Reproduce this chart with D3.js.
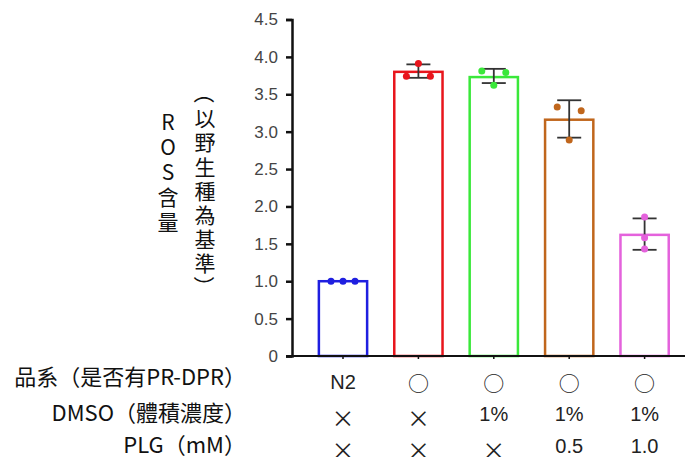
<!DOCTYPE html>
<html>
<head>
<meta charset="utf-8">
<script src="https://cdn.jsdelivr.net/npm/d3@7"></script>
<style>
  body { margin: 0; background: #fff; }
  svg { display: block; }
  text { font-family: "Noto Sans CJK TC", "Noto Sans", sans-serif; }
</style>
</head>
<body>
<div id="chart"></div>
<script>
// data
const groups = ["N2", "wt", "dmso", "plg05", "plg10"];
const means = [1.0, 3.80, 3.73, 3.16, 1.62];
const errLow = [1.0, 3.72, 3.65, 2.92, 1.42];
const errHigh = [1.0, 3.90, 3.84, 3.42, 1.84];
const points = [
    [1.0, 1.0, 1.0],
    [3.74, 3.91, 3.74],
    [3.81, 3.62, 3.79],
    [3.33, 2.89, 3.28],
    [1.86, 1.58, 1.43]
];
// slot of each dot within its bar (-1 left, 0 middle, 1 right)
const pointSlots = [
    [-1, 0, 1],
    [-1, 0, 1],
    [-1, 0, 1],
    [-1, 0, 1],
    [0, 0, 0]
];
const colors = ["#1f1fe0", "#e8151c", "#3ae83a", "#c0661c", "#e462dc"];
const yTicks = [0, 0.5, 1.0, 1.5, 2.0, 2.5, 3.0, 3.5, 4.0, 4.5];
const rowLabels = ["品系（是否有PR-DPR）", "DMSO（體積濃度）", "PLG（mM）"];
const rowValues = [
    ["N2", "○", "○", "○", "○"],
    ["×", "×", "1%", "1%", "1%"],
    ["×", "×", "×", "0.5", "1.0"]
];
const titleLeft = ["R", "O", "S", "含", "量"];
const titleRight = ["（", "以", "野", "生", "種", "為", "基", "準", "）"];

const width = 685;
const height = 457;

const svg = d3.select("#chart")
    .append("svg")
    .attr("width", width)
    .attr("height", height);

const x = d3.scaleBand()
    .domain(groups)
    .range([305.3, 682.3])
    .paddingInner(0.36)
    .paddingOuter(0.18);

const y = d3.scaleLinear()
    .domain([0, 4.5])
    .range([356, 19.5]);

const axisX = 292;

// bars
svg.selectAll(".bar")
    .data(groups)
    .enter()
    .append("rect")
    .attr("class", "bar")
    .attr("x", d => x(d))
    .attr("y", (d, i) => y(means[i]))
    .attr("width", x.bandwidth())
    .attr("height", (d, i) => y(0) - y(means[i]))
    .attr("fill", "none")
    .attr("stroke", (d, i) => colors[i])
    .attr("stroke-width", 2.5);

// y axis
const yAxis = svg.append("g")
    .attr("transform", `translate(${axisX},0)`)
    .call(d3.axisLeft(y).tickValues(yTicks).tickSize(6).tickPadding(8)
        .tickFormat(d => d === 0 ? "0" : d3.format(".1f")(d)));
yAxis.select(".domain").attr("stroke", "#111").attr("stroke-width", 2.5);
yAxis.selectAll(".tick line").attr("stroke", "#111").attr("stroke-width", 2.5);
yAxis.selectAll(".tick text")
    .attr("fill", "#444")
    .style("font-size", "17px")
    .style("font-family", "'Liberation Sans', Arial, sans-serif");

// x axis line
const xAxis = svg.append("g")
    .attr("transform", `translate(0,${y(0)})`)
    .call(d3.axisBottom(x).tickSize(3).tickFormat(""));
xAxis.select(".domain")
    .attr("d", `M${axisX - 6},0H${width}`)
    .attr("stroke", "#111")
    .attr("stroke-width", 1.8);
xAxis.selectAll(".tick line").attr("stroke", "#111").attr("stroke-width", 1.5);

// error bars
const cap = 12;
const eb = svg.selectAll(".err")
    .data(groups.filter((d, i) => errHigh[i] > errLow[i]))
    .enter()
    .append("g")
    .attr("class", "err")
    .attr("stroke", "#333")
    .attr("stroke-width", 1.8);
eb.each(function(d) {
    const i = groups.indexOf(d);
    const cx = x(d) + x.bandwidth() / 2;
    const g = d3.select(this);
    g.append("line").attr("x1", cx).attr("x2", cx).attr("y1", y(errLow[i])).attr("y2", y(errHigh[i]));
    g.append("line").attr("x1", cx - cap).attr("x2", cx + cap).attr("y1", y(errLow[i])).attr("y2", y(errLow[i]));
    g.append("line").attr("x1", cx - cap).attr("x2", cx + cap).attr("y1", y(errHigh[i])).attr("y2", y(errHigh[i]));
});

// dots
const dotData = [];
points.forEach((arr, i) => arr.forEach((v, j) => dotData.push({ g: groups[i], i: i, v: v, s: pointSlots[i][j] })));
svg.selectAll(".dot")
    .data(dotData)
    .enter()
    .append("circle")
    .attr("class", "dot")
    .attr("cx", d => x(d.g) + x.bandwidth() / 2 + d.s * 12)
    .attr("cy", d => y(d.v))
    .attr("r", 3.5)
    .attr("fill", d => colors[d.i]);

// y title, stacked characters
svg.selectAll(".tl")
    .data(titleLeft)
    .enter()
    .append("text")
    .attr("class", "tl")
    .attr("x", 168)
    .attr("y", (d, i) => 121 + i * 25)
    .attr("text-anchor", "middle")
    .attr("dominant-baseline", "central")
    .attr("fill", "#111")
    .style("font-size", "21px")
    .text(d => d);

svg.selectAll(".tr")
    .data(titleRight)
    .enter()
    .append("text")
    .attr("class", "tr")
    .attr("text-anchor", "middle")
    .attr("dominant-baseline", "central")
    .attr("transform", (d, i) => {
        const ty = 93 + i * 24.2;
        return (d === "（" || d === "）") ? `translate(205,${ty}) rotate(90)` : `translate(205,${ty})`;
    })
    .attr("fill", "#111")
    .style("font-size", "21px")
    .text(d => d);

// condition table
const rowY = [375, 411, 443];
const valY = [382, 414, 446];
svg.selectAll(".rowlab")
    .data(rowLabels)
    .enter()
    .append("text")
    .attr("class", "rowlab")
    .attr("x", 246)
    .attr("y", (d, i) => rowY[i])
    .attr("text-anchor", "end")
    .attr("dominant-baseline", "central")
    .attr("fill", "#111")
    .style("font-size", "22px")
    .text(d => d);

rowValues.forEach((row, r) => {
    svg.selectAll(".val" + r)
        .data(row)
        .enter()
        .append("text")
        .attr("class", "val" + r)
        .attr("x", (d, i) => x(groups[i]) + x.bandwidth() / 2)
        .attr("y", d => d === "×" ? valY[r] + 3 : valY[r])
        .attr("text-anchor", "middle")
        .attr("dominant-baseline", "central")
        .attr("fill", "#222")
        .style("font-size", d => d === "○" ? "21px" : (d === "×" ? "23px" : "20px"))
        .style("font-family", d => (d === "○" || d === "×") ? "'Noto Sans CJK TC', sans-serif" : "'Liberation Sans', Arial, sans-serif")
        .text(d => d);
});
</script>
</body>
</html>
